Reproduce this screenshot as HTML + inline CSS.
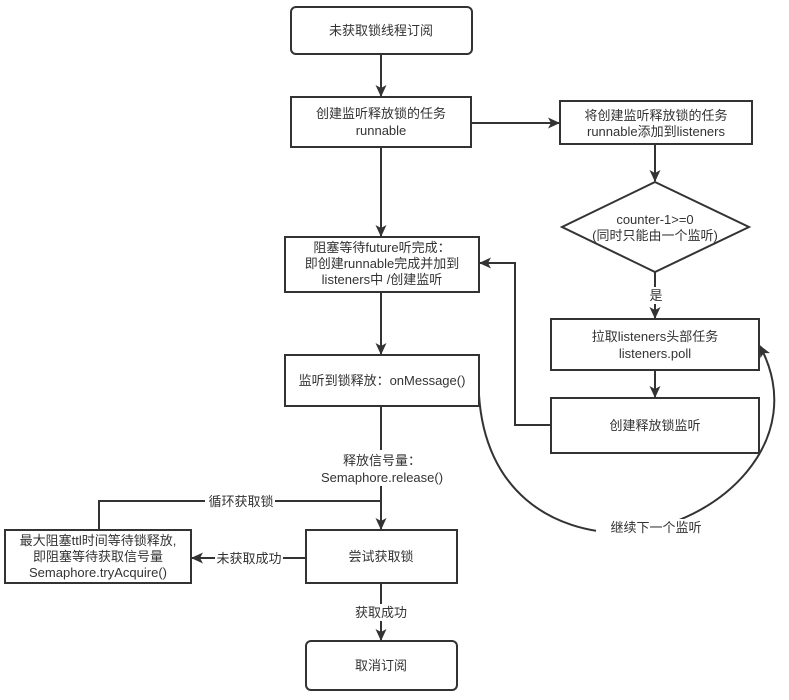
<!DOCTYPE html>
<html><head><meta charset="utf-8"><style>
body{margin:0;background:#fff}
svg text{font-family:"Liberation Sans","Noto Sans CJK SC",sans-serif;font-size:13px;fill:#333;text-anchor:middle}
</style></head><body>
<svg width="789" height="695" viewBox="0 0 789 695" xmlns="http://www.w3.org/2000/svg">
<defs><marker id="a" markerWidth="12" markerHeight="12" refX="11" refY="6" orient="auto" markerUnits="userSpaceOnUse"><path d="M0,0.5 L12,6 L0,11.5 L3,6 Z" fill="#333"/></marker></defs>
<g fill="#fff" stroke="#333" stroke-width="2">
<rect x="291" y="7" width="181" height="47" rx="5"/>
<rect x="291" y="97" width="180" height="50"/>
<rect x="560" y="101" width="192" height="43"/>
<polygon points="655,182 749,227 655,272 562,227"/>
<rect x="551" y="319" width="208" height="51"/>
<rect x="551" y="398" width="208" height="55"/>
<rect x="285" y="237" width="194" height="55"/>
<rect x="285" y="355" width="194" height="51"/>
<rect x="5" y="530" width="186" height="53"/>
<rect x="306" y="530" width="151" height="53"/>
<rect x="306" y="641" width="151" height="49" rx="5"/>
</g>
<g fill="none" stroke="#333" stroke-width="2">
<line x1="381" y1="54" x2="381" y2="96" marker-end="url(#a)"/>
<line x1="471" y1="123" x2="559" y2="123" marker-end="url(#a)"/>
<line x1="381" y1="147" x2="381" y2="236" marker-end="url(#a)"/>
<line x1="655" y1="144" x2="655" y2="181" marker-end="url(#a)"/>
<line x1="655" y1="272" x2="655" y2="318" marker-end="url(#a)"/>
<line x1="655" y1="370" x2="655" y2="397" marker-end="url(#a)"/>
<polyline points="551,425 515,425 515,263 480,263" marker-end="url(#a)"/>
<line x1="381" y1="292" x2="381" y2="354" marker-end="url(#a)"/>
<line x1="381" y1="406" x2="381" y2="529" marker-end="url(#a)"/>
<polyline points="381,501 99,501 99,530"/>
<line x1="306" y1="558" x2="192" y2="558" marker-end="url(#a)"/>
<line x1="381" y1="583" x2="381" y2="640" marker-end="url(#a)"/>
<path d="M479,395 C485,490 550,533 625,533 C720,525 810,440 760,346" marker-end="url(#a)"/>
</g>
<g fill="#fff">
<rect x="648" y="287" width="16" height="17"/>
<rect x="332" y="450" width="100" height="36"/>
<rect x="205" y="493" width="70" height="16"/>
<rect x="215" y="550" width="68" height="16"/>
<rect x="350" y="604" width="62" height="17"/>
<rect x="596" y="519" width="120" height="17"/>
</g>
<text x="381" y="35">未获取锁线程订阅</text>
<text x="381" y="118">创建监听释放锁的任务</text><text x="381" y="135">runnable</text>
<text x="656" y="120">将创建监听释放锁的任务</text><text x="656" y="136">runnable添加到listeners</text>
<text x="655" y="224">counter-1&gt;=0</text><text x="655" y="240">(同时只能由一个监听)</text>
<text x="656" y="300">是</text>
<text x="655" y="341">拉取listeners头部任务</text><text x="655" y="358">listeners.poll</text>
<text x="655" y="430">创建释放锁监听</text>
<text x="382" y="252">阻塞等待future听完成：</text><text x="382" y="268">即创建runnable完成并加到</text><text x="382" y="284">listeners中 /创建监听</text>
<text x="382" y="385">监听到锁释放：onMessage()</text>
<text x="382" y="465">释放信号量：</text><text x="382" y="482">Semaphore.release()</text>
<text x="241" y="506">循环获取锁</text>
<text x="98" y="545">最大阻塞ttl时间等待锁释放,</text><text x="98" y="561">即阻塞等待获取信号量</text><text x="98" y="577">Semaphore.tryAcquire()</text>
<text x="249" y="563">未获取成功</text>
<text x="381" y="561">尝试获取锁</text>
<text x="381" y="617">获取成功</text>
<text x="381" y="670">取消订阅</text>
<text x="656" y="532">继续下一个监听</text>
</svg>
</body></html>
